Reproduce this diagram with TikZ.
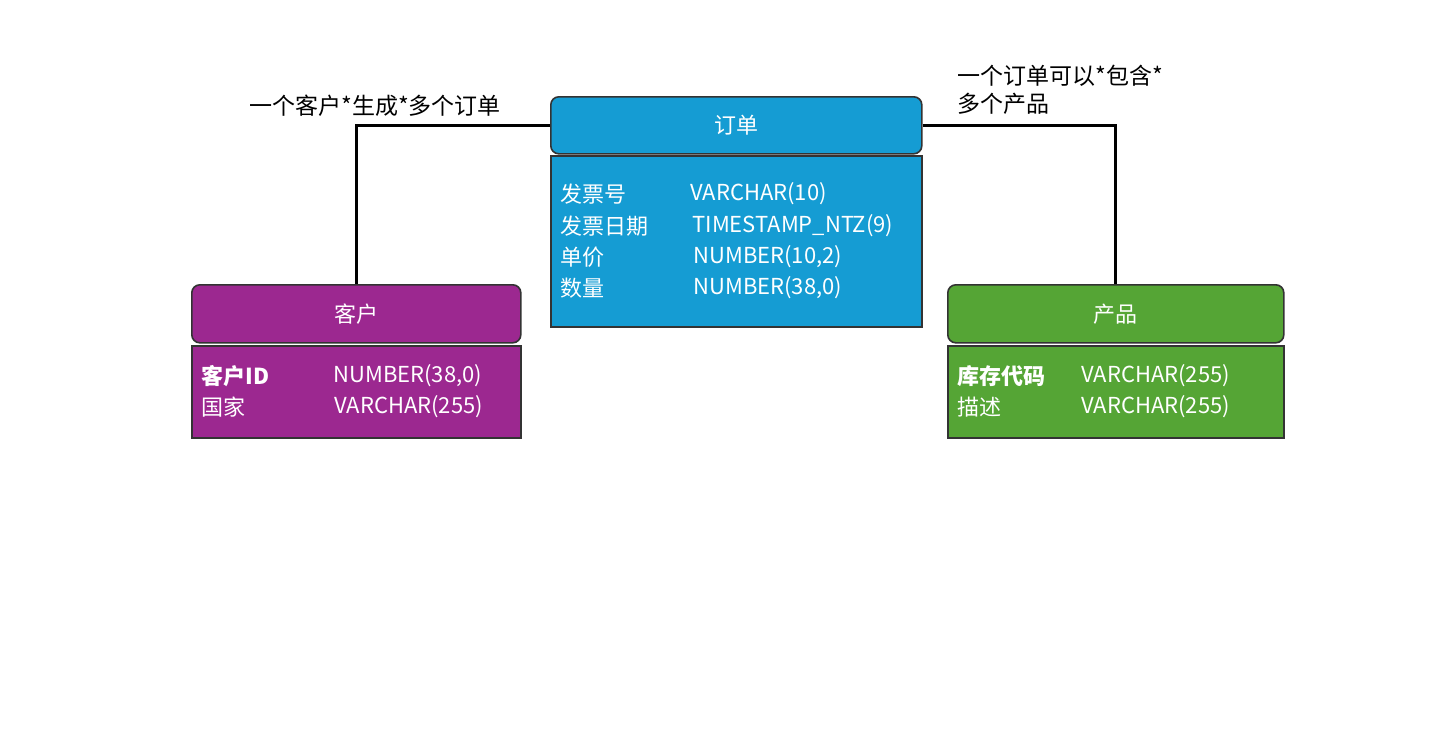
\documentclass[tikz,border=0pt]{standalone}
\usepackage{fontspec}
\setmainfont{Noto Sans CJK SC}
\begin{document}
\begin{tikzpicture}[x=0.5pt,y=-0.5pt,
  hdr/.style={draw=black!80,line width=0.8pt,rounded corners=4pt,minimum height=29pt,text=white,font=\fontsize{11}{13}\selectfont,anchor=north west,inner sep=0pt},
  bdy/.style={draw=black!80,line width=0.8pt,anchor=north west,inner sep=0pt},
  fld/.style={text=white,anchor=west,inner sep=0pt,font=\fontsize{11}{13}\selectfont},
  lbl/.style={text=black,inner sep=0pt,font=\fontsize{11.5}{14}\selectfont},
  link/.style={line width=1.5pt,black}]
\definecolor{cblue}{HTML}{159CD3}
\definecolor{cpurp}{HTML}{9C2890}
\definecolor{cgreen}{HTML}{55A535}
\useasboundingbox[fill=white] (0,0) rectangle (1456,734);
% orders
\node[hdr,fill=cblue,minimum width=185.5pt,minimum height=28.5pt] (oh) at (550,96) {订单};
\node[bdy,fill=cblue,minimum width=185.5pt,minimum height=85.5pt] (ob) at (550,155) {};
\node[fld] (o1) at (560,194) {发票号};  \node[fld] (o1t) at (690,194) {VARCHAR(10)};
\node[fld] (o2) at (560,226) {发票日期};\node[fld] (o2t) at (692,226) {TIMESTAMP\_NTZ(9)};
\node[fld] (o3) at (560,257) {单价};    \node[fld] (o3t) at (693,257) {NUMBER(10,2)};
\node[fld] (o4) at (560,288) {数量};    \node[fld] (o4t) at (693,288) {NUMBER(38,0)};
% customer
\node[hdr,fill=cpurp,minimum width=164.5pt] (ch) at (191,284) {客户};
\node[bdy,fill=cpurp,minimum width=164.5pt,minimum height=46pt] (cb) at (191,345) {};
\node[fld,font=\fontsize{11}{13}\selectfont\bfseries] (c1) at (201,376) {客户ID}; \node[fld] (c1t) at (333,376) {NUMBER(38,0)};
\node[fld] (c2) at (201,407) {国家}; \node[fld] (c2t) at (334,407) {VARCHAR(255)};
% product
\node[hdr,fill=cgreen,minimum width=168pt] (ph) at (947,284) {产品};
\node[bdy,fill=cgreen,minimum width=168pt,minimum height=46pt] (pb) at (947,345) {};
\node[fld,font=\fontsize{11}{13}\selectfont\bfseries] (p1) at (957,376) {库存代码}; \node[fld] (p1t) at (1081,376) {VARCHAR(255)};
\node[fld] (p2) at (957,407) {描述}; \node[fld] (p2t) at (1081,407) {VARCHAR(255)};
% links
\draw[link] (oh.west) -| (ch.north);
\draw[link] (oh.east) -| (ph.north);
% labels
\node[lbl] (l1) at (375,106) {一个客户*生成*多个订单};
\node[lbl,anchor=west,align=left] (l2) at (957,90) {一个订单可以*包含*\\多个产品};
\end{tikzpicture}
\end{document}
